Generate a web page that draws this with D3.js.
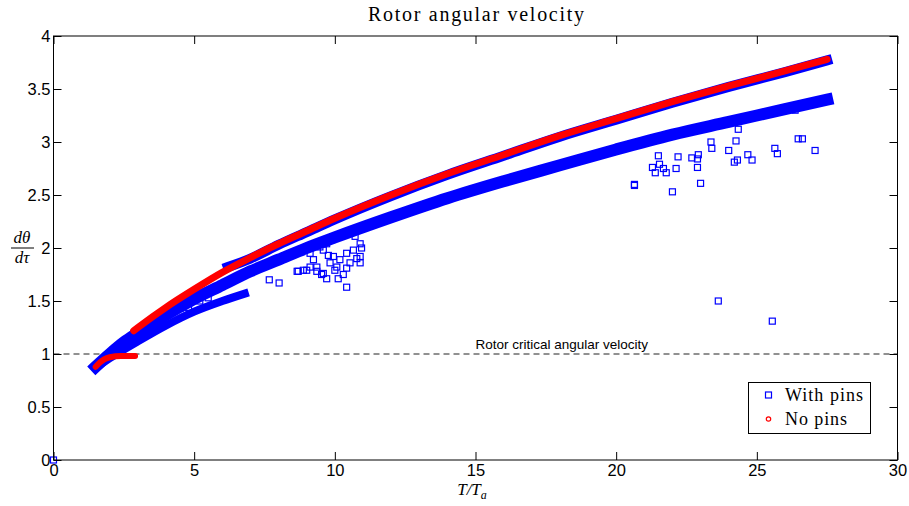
<!DOCTYPE html>
<html><head><meta charset="utf-8">
<script src="https://cdn.jsdelivr.net/npm/d3@7"></script>
<style>body{margin:0;background:#fff}</style>
</head><body>
<svg id="c" width="909" height="506"></svg>
<script>
// ---------- data ----------
const xTicks = [0, 5, 10, 15, 20, 25, 30];
const yTicks = [0, 0.5, 1, 1.5, 2, 2.5, 3, 3.5, 4];
const criticalVelocity = 1;

// "No pins" dense run, upper part
const noPinsX = [2.85, 3, 4, 5, 6, 7, 8, 9, 10, 12, 14, 16, 18, 20, 22, 24, 26, 27.5];
const noPinsY = [1.22, 1.25, 1.44, 1.61, 1.77, 1.91, 2.04, 2.16, 2.28, 2.50, 2.70, 2.88, 3.06, 3.22, 3.38, 3.53, 3.67, 3.78];
// "No pins" dense run, start-up hook
const noPinsHookX = [1.5, 1.65, 1.8, 2.0, 2.4, 2.9];
const noPinsHookY = [0.88, 0.92, 0.95, 0.97, 0.98, 0.98];

// "With pins" dense run following the no-pins curve
const pinsUpperX = [6.2, 7, 8, 9, 10, 12, 14, 16, 18, 20, 22, 24, 26, 27.5];
const pinsUpperY = [1.82, 1.90, 2.03, 2.15, 2.27, 2.49, 2.69, 2.87, 3.05, 3.21, 3.37, 3.52, 3.66, 3.77];
// "With pins" main lower dense run
const pinsMainX = [1.5, 2, 2.5, 3, 4, 5, 6, 7, 8, 9, 10, 12, 14, 16, 18, 20, 22, 24, 26, 27.5];
const pinsMainY = [0.88, 1.00, 1.11, 1.20, 1.37, 1.52, 1.65, 1.78, 1.89, 2.00, 2.10, 2.29, 2.47, 2.63, 2.78, 2.93, 3.07, 3.19, 3.31, 3.40];
// "With pins" short lower run
const pinsShortX = [1.5, 2, 3, 4, 5, 6, 6.8];
const pinsShortY = [0.87, 0.96, 1.12, 1.27, 1.40, 1.50, 1.57];

// "With pins" scattered points
const pinsScatterX = [0, 4.5, 4.8, 5.2, 5.5, 7.67, 8.02, 8.66, 8.70, 8.88,
  9.0, 9.12, 9.12, 9.24, 9.36, 9.36, 9.47, 9.53, 9.59, 9.59, 9.71, 9.71, 9.77, 9.83, 9.89, 9.95,
  10.0, 10.07, 10.12, 10.18, 10.25, 10.3, 10.42, 10.42, 10.42, 10.48, 10.54, 10.66, 10.72, 10.78, 10.9, 10.9, 10.9, 10.95,
  20.65, 20.65, 21.29, 21.39, 21.5, 21.54, 21.68, 21.78, 22.0, 22.13, 22.2, 22.69, 22.89, 22.89, 22.92, 23.0,
  23.37, 23.40, 23.63, 24.0, 24.2, 24.26, 24.31, 24.34, 24.68, 24.83, 25.55, 25.64, 25.73, 26.36, 26.47, 26.62, 27.07];
const pinsScatterY = [0, 1.43, 1.44, 1.50, 1.53, 1.70, 1.67, 1.78, 1.78, 1.79,
  1.79, 1.82, 1.95, 1.89, 1.82, 1.78, 2.01, 1.75, 1.98, 1.76, 1.71, 2.04, 1.93, 1.86, 2.08, 1.92,
  1.79, 1.82, 1.71, 1.89, 2.12, 1.75, 1.63, 1.95, 1.81, 2.14, 1.86, 1.98, 2.11, 1.90, 2.04, 1.92, 1.86, 2.0,
  2.60, 2.59, 2.76, 2.71, 2.87, 2.79, 2.75, 2.71, 2.53, 2.75, 2.86, 2.85, 2.84, 2.76, 2.88, 2.61,
  3.00, 2.94, 1.50, 2.92, 2.81, 3.01, 2.83, 3.12, 2.88, 2.83, 1.31, 2.94, 2.89, 3.30, 3.03, 3.03, 2.92];

const seriesNames = ["With pins", "No pins"];
const seriesColors = ["#0000ff", "#ff0000"];

// ---------- layout ----------
const svg = d3.select("#c");
const x = d3.scaleLinear().domain([0, 30]).range([53.5, 897.5]);
const y = d3.scaleLinear().domain([0, 4]).range([460, 36]);
const zip = (a, b) => a.map((v, i) => [v, b[i]]);
const line = d3.line().x(d => x(d[0])).y(d => y(d[1])).curve(d3.curveMonotoneX);

const sans = "'Liberation Sans', Arial, sans-serif";
const serif = "'Liberation Serif', 'Times New Roman', serif";

// title
svg.append("text").attr("x", 476).attr("y", 21).attr("text-anchor", "middle")
  .attr("font-family", serif).attr("font-size", 20).attr("textLength", 216)
  .text("Rotor angular velocity");

// critical line
svg.append("line").attr("x1", x(0)).attr("x2", x(30)).attr("y1", y(criticalVelocity)).attr("y2", y(criticalVelocity))
  .attr("stroke", "#222").attr("stroke-dasharray", "6,4").attr("stroke-width", 1);
svg.append("text").attr("x", x(15)).attr("y", y(criticalVelocity) - 5)
  .attr("font-family", sans).attr("font-size", 13.5).text("Rotor critical angular velocity");

const gData = svg.append("g");
// With pins dense runs
gData.append("path").datum(zip(pinsMainX, pinsMainY)).attr("d", line)
  .attr("fill", "none").attr("stroke", seriesColors[0]).attr("stroke-width", 12).attr("stroke-linecap", "square");
gData.append("path").datum(zip(pinsShortX, pinsShortY)).attr("d", line)
  .attr("fill", "none").attr("stroke", seriesColors[0]).attr("stroke-width", 8).attr("stroke-linecap", "square");
gData.append("path").datum(zip(pinsUpperX, pinsUpperY)).attr("d", line)
  .attr("fill", "none").attr("stroke", seriesColors[0]).attr("stroke-width", 10).attr("stroke-linecap", "square");

// scattered squares
gData.selectAll("rect.sc").data(zip(pinsScatterX, pinsScatterY)).enter().append("rect")
  .attr("x", d => x(d[0]) - 3).attr("y", d => y(d[1]) - 3).attr("width", 6).attr("height", 6)
  .attr("fill", "none").attr("stroke", seriesColors[0]).attr("stroke-width", 1.2);

// No pins dense runs
gData.append("path").datum(zip(noPinsHookX, noPinsHookY)).attr("d", line)
  .attr("fill", "none").attr("stroke", seriesColors[1]).attr("stroke-width", 6).attr("stroke-linecap", "round");
gData.append("path").datum(zip(noPinsX, noPinsY)).attr("d", line)
  .attr("fill", "none").attr("stroke", seriesColors[1]).attr("stroke-width", 7).attr("stroke-linecap", "round");

// axes box
const box = svg.append("g");
box.append("rect").attr("x", x(0)).attr("y", y(4)).attr("width", x(30) - x(0)).attr("height", y(0) - y(4))
  .attr("fill", "none").attr("stroke", "#000").attr("stroke-width", 1);

const tl = 8;
const fmt = d3.format("~g");
const axB = d3.axisBottom(x).tickValues(xTicks).tickSize(-tl).tickPadding(4).tickSizeOuter(0).tickFormat(fmt);
const axT = d3.axisTop(x).tickValues(xTicks).tickSize(-tl).tickFormat("").tickSizeOuter(0);
const axL = d3.axisLeft(y).tickValues(yTicks).tickSize(-tl).tickPadding(3).tickSizeOuter(0).tickFormat(fmt);
const axR = d3.axisRight(y).tickValues(yTicks).tickSize(-tl).tickFormat("").tickSizeOuter(0);
function style(g) {
  g.select(".domain").remove();
  g.selectAll("line").attr("stroke", "#000");
  g.selectAll("text").attr("font-family", sans).attr("font-size", 16.5).attr("fill", "#000");
}
svg.append("g").attr("transform", `translate(0,${y(0)})`).call(axB).call(style);
svg.append("g").attr("transform", `translate(0,${y(4)})`).call(axT).call(style);
svg.append("g").attr("transform", `translate(${x(0)},0)`).call(axL).call(style);
svg.append("g").attr("transform", `translate(${x(30)},0)`).call(axR).call(style);

// axis labels
const xl = svg.append("text").attr("x", 472).attr("y", 495).attr("text-anchor", "middle")
  .attr("font-family", serif).attr("font-size", 17).attr("font-style", "italic");
xl.append("tspan").text("T/T");
xl.append("tspan").attr("font-size", 12).attr("dy", 4).text("a");

const yl = svg.append("g").attr("font-family", serif).attr("font-style", "italic").attr("font-size", 17);
yl.append("text").attr("x", 22).attr("y", 243).attr("text-anchor", "middle").text("dθ");
yl.append("line").attr("x1", 11).attr("x2", 34).attr("y1", 248).attr("y2", 248).attr("stroke", "#000").attr("stroke-width", 1);
yl.append("text").attr("x", 22).attr("y", 263).attr("text-anchor", "middle").text("dτ");

// legend
const lg = svg.append("g");
lg.append("rect").attr("x", 748.5).attr("y", 382.5).attr("width", 122).attr("height", 51)
  .attr("fill", "#fff").attr("stroke", "#000").attr("stroke-width", 1);
lg.append("rect").attr("x", 765.5).attr("y", 392).attr("width", 6).attr("height", 6)
  .attr("fill", "none").attr("stroke", seriesColors[0]).attr("stroke-width", 1.2);
lg.append("circle").attr("cx", 768.5).attr("cy", 419).attr("r", 2.2)
  .attr("fill", "none").attr("stroke", seriesColors[1]).attr("stroke-width", 1.2);
lg.append("text").attr("x", 785).attr("y", 401).attr("font-family", serif).attr("font-size", 18)
  .attr("textLength", 78).text(seriesNames[0]);
lg.append("text").attr("x", 785).attr("y", 425).attr("font-family", serif).attr("font-size", 18)
  .attr("textLength", 62).text(seriesNames[1]);
</script>
</body></html>
